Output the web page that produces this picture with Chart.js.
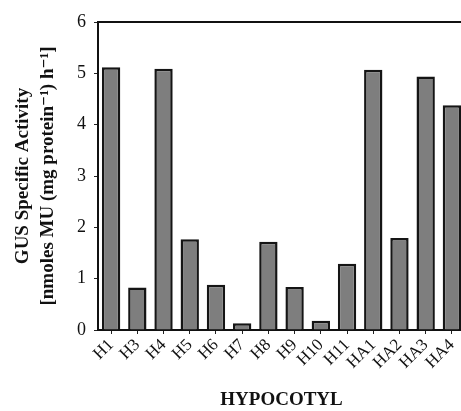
<!DOCTYPE html>
<html>
<head>
<meta charset="utf-8">
<script src="https://cdn.jsdelivr.net/npm/chart.js@4.4.0/dist/chart.umd.min.js"></script>
<style>
  html, body { margin: 0; padding: 0; background: #fff; overflow: hidden; }
  #wrap { width: 470px; height: 411px; }
</style>
</head>
<body>
<div id="wrap"><canvas id="gusChart" width="470" height="411"></canvas></div>
<script>
// GUS activity in hypocotyl lines
const lines = ["H1", "H3", "H4", "H5", "H6", "H7", "H8", "H9", "H10", "H11", "HA1", "HA2", "HA3", "HA4"];
const activity = [5.12, 0.83, 5.09, 1.77, 0.88, 0.13, 1.72, 0.84, 0.18, 1.29, 5.07, 1.79, 4.94, 4.38];
const yTicks = [0, 1, 2, 3, 4, 5, 6];

const serif = "'Liberation Serif', 'DejaVu Serif', serif";

new Chart(document.getElementById("gusChart"), {
  type: "bar",
  data: {
    labels: lines,
    datasets: [{
      data: activity,
      backgroundColor: "#7e7e7e",
      borderColor: "#151515",
      borderWidth: 2.5,
      borderSkipped: "bottom",
      barPercentage: 0.7,
      categoryPercentage: 1.0
    }]
  },
  options: {
    responsive: false,
    animation: false,
    layout: { padding: { top: 14, left: 10, right: 5, bottom: 0 } },
    scales: {
      x: {
        grid: {
          drawOnChartArea: false,
          offset: false,
          tickLength: 4,
          tickColor: "#222"
        },
        border: { color: "#111", width: 2 },
        ticks: {
          color: "#111",
          font: { family: serif, size: 17 },
          autoSkip: false,
          minRotation: 45,
          maxRotation: 45,
          padding: 1
        },
        title: {
          display: true,
          text: "HYPOCOTYL",
          color: "#111",
          font: { family: serif, size: 19, weight: "bold" },
          padding: { top: 12, bottom: 0 }
        },
        afterFit(scale) { scale.height = 81; }
      },
      xTop: {
        position: "top",
        grid: { display: false },
        ticks: { display: false },
        border: { color: "#111", width: 2 }
      },
      y: {
        min: 0,
        max: 6,
        afterBuildTicks(scale) { scale.ticks = yTicks.map(v => ({ value: v })); },
        grid: {
          drawOnChartArea: false,
          tickLength: 4,
          tickColor: "#222"
        },
        border: { color: "#111", width: 2 },
        ticks: {
          color: "#111",
          font: { family: serif, size: 18 },
          padding: 8
        },
        title: {
          display: true,
          text: ["GUS Specific Activity", "[nmoles MU (mg protein\u207B\u00B9) h\u207B\u00B9]"],
          color: "#111",
          font: { family: serif, size: 19, weight: "bold", lineHeight: 1.35 },
          padding: { top: 0, bottom: 4 }
        },
        afterFit(scale) { scale.width = 88; }
      }
    },
    plugins: {
      legend: { display: false },
      tooltip: { enabled: false }
    }
  }
});
</script>
</body>
</html>
